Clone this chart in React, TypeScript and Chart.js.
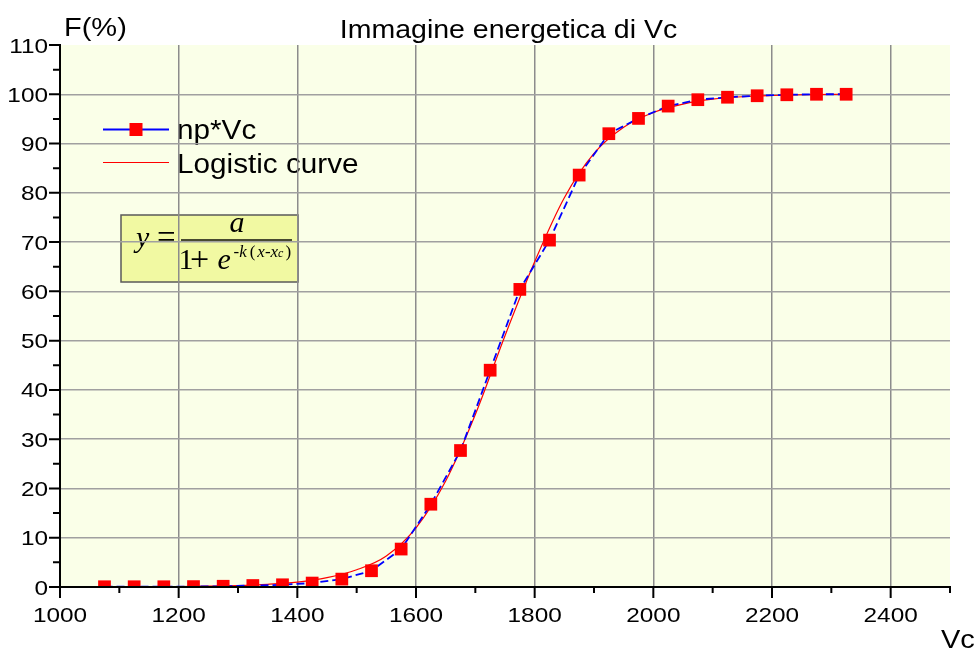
import React, { useEffect, useRef } from 'react';
import { Chart, registerables } from 'chart.js';

Chart.register(...registerables);

// ---------- data ----------
const vcValues = [
  1075, 1125, 1175, 1225, 1275, 1325, 1375, 1425, 1475, 1525, 1575, 1625, 1675,
  1725, 1775, 1825, 1875, 1925, 1975, 2025, 2075, 2125, 2175, 2225, 2275, 2325,
];
const npVcPercent = [
  0.05, 0.05, 0.05, 0.08, 0.15, 0.3, 0.45, 0.8, 1.6, 3.3, 7.7, 16.8, 27.7,
  44.0, 60.4, 70.4, 83.6, 92.0, 95.1, 97.6, 98.9, 99.4, 99.7, 99.9, 100, 100,
];
const logisticVc = [
  1075, 1150, 1200, 1250, 1300, 1350, 1400, 1450, 1500, 1550, 1600, 1650, 1700,
  1750, 1800, 1850, 1900, 1950, 2000, 2050, 2100, 2150, 2200, 2250, 2325,
];
const logisticPercent = [
  0.02, 0.05, 0.1, 0.18, 0.3, 0.55, 1.0, 1.9, 3.5, 6.3, 12.0, 21.5, 35.0,
  51.0, 66.0, 79.0, 88.0, 93.3, 96.3, 98.0, 99.0, 99.5, 99.75, 99.9, 100,
];
const xMajorTicks = [1000, 1200, 1400, 1600, 1800, 2000, 2200, 2400];
const xMinorTicks = [1100, 1300, 1500, 1700, 1900, 2100, 2300, 2500];
const yMajorTicks = [0, 10, 20, 30, 40, 50, 60, 70, 80, 90, 100, 110];
const yMinorTicks = [5, 15, 25, 35, 45, 55, 65, 75, 85, 95, 105];
const chartTitle = 'Immagine energetica di Vc';
const yAxisTitle = 'F(%)';
const xAxisTitle = 'Vc';
const seriesLabels = ['np*Vc', 'Logistic curve'];

// ---------- styles ----------
const SANS = '"Liberation Sans", Arial, Helvetica, sans-serif';
const SERIF = '"Liberation Serif", "Times New Roman", serif';
const PLOT_BG = '#FAFFE8';
const BLUE = '#0000FF';
const RED = '#FF0000';

function stretchedText(
  ctx: CanvasRenderingContext2D,
  text: string,
  x: number,
  y: number,
  align: 'left' | 'center' | 'right',
  font: string,
  sx: number,
) {
  ctx.save();
  ctx.font = font;
  ctx.textAlign = 'left';
  ctx.textBaseline = 'alphabetic';
  const w = ctx.measureText(text).width * sx;
  let left = x;
  if (align === 'center') left = x - w / 2;
  else if (align === 'right') left = x - w;
  ctx.translate(left, y);
  ctx.scale(sx, 1);
  ctx.fillStyle = '#000';
  ctx.fillText(text, 0, 0);
  ctx.restore();
}

function drawFormula(ctx: CanvasRenderingContext2D) {
  ctx.save();
  ctx.fillStyle = '#F1F9A2';
  ctx.fillRect(121, 215, 177, 67);
  ctx.strokeStyle = '#5a5a5a';
  ctx.lineWidth = 1.5;
  ctx.strokeRect(121, 215, 177, 67);
  ctx.fillStyle = '#000';
  ctx.textBaseline = 'alphabetic';
  ctx.textAlign = 'left';
  ctx.font = `italic 30px ${SERIF}`;
  ctx.fillText('y', 136, 247);
  ctx.font = `33px ${SERIF}`;
  ctx.fillText('=', 157, 248);
  ctx.fillRect(181, 239.3, 111, 1.4);
  ctx.font = `italic 30px ${SERIF}`;
  ctx.textAlign = 'center';
  ctx.fillText('a', 237, 232);
  ctx.textAlign = 'left';
  ctx.font = `30px ${SERIF}`;
  ctx.fillText('1', 178.5, 268.5);
  ctx.font = `34px ${SERIF}`;
  ctx.fillText('+', 190, 270);
  ctx.font = `italic 30px ${SERIF}`;
  ctx.fillText('e', 217.5, 268.5);
  const parts: [string, string, number][] = [
    ['-k', `italic 17px ${SERIF}`, 3],
    ['(', `17px ${SERIF}`, 2],
    ['x-x', `italic 17px ${SERIF}`, 0],
    ['c', `italic 12px ${SERIF}`, 2],
    [')', `17px ${SERIF}`, 0],
  ];
  let x = 233.5;
  for (const [t, f, gap] of parts) {
    ctx.font = f;
    ctx.fillText(t, x, 256.5);
    x += ctx.measureText(t).width + gap;
  }
  ctx.restore();
}

function drawLegend(ctx: CanvasRenderingContext2D) {
  ctx.save();
  ctx.strokeStyle = BLUE;
  ctx.lineWidth = 1.8;
  ctx.beginPath();
  ctx.moveTo(103, 129.5);
  ctx.lineTo(169, 129.5);
  ctx.stroke();
  ctx.fillStyle = RED;
  ctx.fillRect(129.5, 123, 13, 13);
  ctx.strokeStyle = RED;
  ctx.lineWidth = 1;
  ctx.beginPath();
  ctx.moveTo(103, 162.5);
  ctx.lineTo(169, 162.5);
  ctx.stroke();
  ctx.restore();
  stretchedText(ctx, seriesLabels[0], 177, 139, 'left', `27px ${SANS}`, 1.1);
  stretchedText(ctx, seriesLabels[1], 177, 173, 'left', `27px ${SANS}`, 1.1);
}

const decorPlugin = {
  id: 'decor',
  beforeDraw(chart: any) {
    const { ctx, chartArea: a } = chart;
    ctx.save();
    ctx.fillStyle = '#FFFFFF';
    ctx.fillRect(0, 0, chart.width, chart.height);
    ctx.fillStyle = PLOT_BG;
    ctx.fillRect(a.left, a.top, a.right - a.left, a.bottom - a.top);
    ctx.restore();
    drawLegend(ctx);
    drawFormula(ctx);
  },
  afterDraw(chart: any) {
    const { ctx, chartArea: a } = chart;
    const xs = chart.scales.x;
    const ys = chart.scales.y;
    ctx.save();
    ctx.strokeStyle = '#000';
    ctx.lineWidth = 2;
    ctx.beginPath();
    ctx.moveTo(a.left, a.top - 1);
    ctx.lineTo(a.left, a.bottom + 1);
    ctx.moveTo(a.left - 1, a.bottom);
    ctx.lineTo(a.right + 1, a.bottom);
    for (const v of xMajorTicks) {
      const p = xs.getPixelForValue(v);
      ctx.moveTo(p, a.bottom);
      ctx.lineTo(p, a.bottom + 11);
    }
    for (const v of xMinorTicks) {
      const p = xs.getPixelForValue(v);
      ctx.moveTo(p, a.bottom);
      ctx.lineTo(p, a.bottom + 6);
    }
    for (const v of yMajorTicks) {
      const p = ys.getPixelForValue(v);
      ctx.moveTo(a.left, p);
      ctx.lineTo(a.left - 11, p);
    }
    for (const v of yMinorTicks) {
      const p = ys.getPixelForValue(v);
      ctx.moveTo(a.left, p);
      ctx.lineTo(a.left - 7, p);
    }
    ctx.stroke();
    ctx.restore();

    const tickFont = `21px ${SANS}`;
    for (const v of xMajorTicks) {
      stretchedText(ctx, String(v), xs.getPixelForValue(v), 622, 'center', tickFont, 1.16);
    }
    for (const v of yMajorTicks) {
      stretchedText(ctx, String(v), 48, ys.getPixelForValue(v) + 7.5, 'right', tickFont, 1.16);
    }
    stretchedText(ctx, chartTitle, 508.5, 38, 'center', `25px ${SANS}`, 1.14);
    stretchedText(ctx, yAxisTitle, 64, 36, 'left', `25px ${SANS}`, 1.16);
    stretchedText(ctx, xAxisTitle, 941, 648, 'left', `25px ${SANS}`, 1.16);
  },
};

export default function App() {
  const canvasRef = useRef<HTMLCanvasElement | null>(null);

  useEffect(() => {
    const canvas = canvasRef.current;
    if (!canvas) return;
    const chart = new Chart(canvas, {
      type: 'line',
      data: {
        datasets: [
          {
            label: seriesLabels[0],
            data: vcValues.map((x, i) => ({ x, y: npVcPercent[i] })),
            borderColor: BLUE,
            borderWidth: 1.8,
            borderDash: [8, 4],
            tension: 0,
            pointStyle: 'rect',
            pointRadius: 9,
            pointBackgroundColor: RED,
            pointBorderColor: RED,
            pointBorderWidth: 0,
            order: 0,
          },
          {
            label: seriesLabels[1],
            data: logisticVc.map((x, i) => ({ x, y: logisticPercent[i] })),
            borderColor: RED,
            borderWidth: 1.2,
            pointRadius: 0,
            cubicInterpolationMode: 'monotone',
            order: 1,
          },
        ],
      },
      options: {
        responsive: false,
        animation: false,
        events: [],
        layout: { padding: { top: 45, right: 27, left: 0, bottom: 0 } },
        plugins: {
          legend: { display: false },
          title: { display: false },
          tooltip: { enabled: false },
        },
        scales: {
          x: {
            type: 'linear',
            min: 1000,
            max: 2500,
            afterBuildTicks: (s: any) => {
              s.ticks = xMajorTicks.map((v) => ({ value: v }));
            },
            afterFit: (s: any) => {
              s.height = 61;
            },
            ticks: { display: false },
            border: { display: false },
            grid: {
              drawTicks: false,
              lineWidth: 1.5,
              color: (c: any) => (c.tick && c.tick.value === 1000 ? 'rgba(0,0,0,0)' : '#8C8C8C'),
            },
          },
          y: {
            type: 'linear',
            min: 0,
            max: 110,
            afterBuildTicks: (s: any) => {
              s.ticks = yMajorTicks.map((v) => ({ value: v }));
            },
            afterFit: (s: any) => {
              s.width = 60;
            },
            ticks: { display: false },
            border: { display: false },
            grid: {
              drawTicks: false,
              lineWidth: 1.5,
              color: (c: any) =>
                c.tick && (c.tick.value === 0 || c.tick.value === 110) ? 'rgba(0,0,0,0)' : '#A0A0A0',
            },
          },
        },
      } as any,
      plugins: [decorPlugin],
    });
    return () => chart.destroy();
  }, []);

  return (
    <div style={{ position: 'fixed', left: 0, top: 0, width: 977, height: 648, background: '#fff' }}>
      <canvas ref={canvasRef} width={977} height={648} style={{ display: 'block' }} />
    </div>
  );
}
